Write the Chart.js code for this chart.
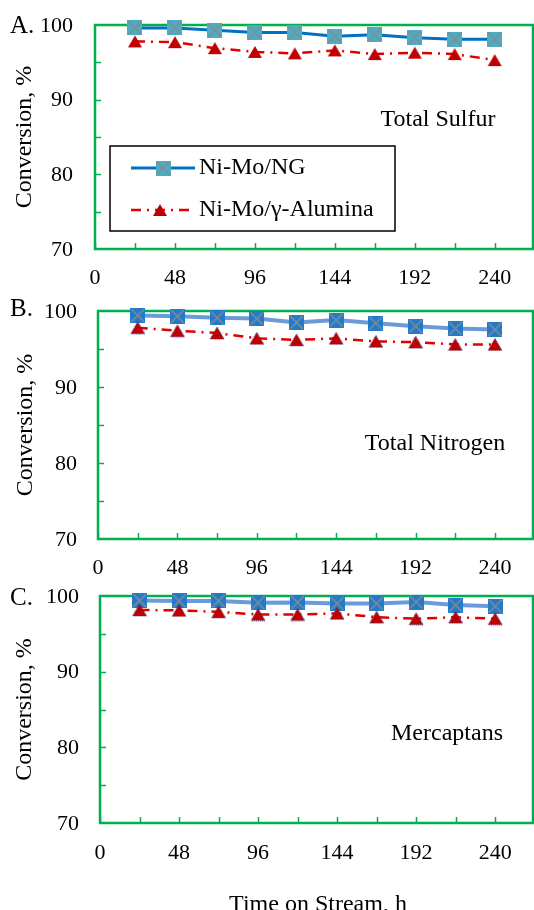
<!DOCTYPE html>
<html>
<head>
<meta charset="utf-8">
<script src="https://cdn.jsdelivr.net/npm/chart.js@4.4.1/dist/chart.umd.min.js"></script>
<style>
html, body { margin: 0; padding: 0; background: #fff; overflow: hidden; }
body { width: 534px; height: 910px; position: relative; font-family: "Liberation Serif", "Times New Roman", serif; }
canvas { position: absolute; left: 0; }
#xTitle { position: absolute; left: 318px; top: 903px; transform: translate(-50%, -50%); font-size: 24px; white-space: nowrap; color: #000; }
</style>
</head>
<body>
<canvas id="chartA" width="534" height="290" style="top:0"></canvas>
<canvas id="chartB" width="534" height="290" style="top:290px"></canvas>
<canvas id="chartC" width="534" height="330" style="top:580px"></canvas>
<div id="xTitle">Time on Stream, h</div>
<script>
// data
const hours = [24, 48, 72, 96, 120, 144, 168, 192, 216, 240]
const xTicks = [0, 24, 48, 72, 96, 120, 144, 168, 192, 216, 240]
const xLabels = [0, 48, 96, 144, 192, 240]
const yTicks = [70, 80, 90, 100]
const yTickMarks = [75, 80, 85, 90, 95]
const seriesNames = ['Ni-Mo/NG', 'Ni-Mo/γ-Alumina']

const sulfurNG = [99.6, 99.6, 99.3, 99.0, 99.0, 98.5, 98.7, 98.3, 98.1, 98.1]
const sulfurAlumina = [97.8, 97.7, 96.9, 96.4, 96.2, 96.6, 96.1, 96.3, 96.1, 95.3]
const nitrogenNG = [99.4, 99.3, 99.1, 99.0, 98.5, 98.8, 98.4, 98.0, 97.7, 97.55]
const nitrogenAlumina = [97.8, 97.4, 97.1, 96.4, 96.2, 96.4, 96.0, 95.9, 95.6, 95.6]
const mercaptanNG = [99.4, 99.35, 99.35, 99.1, 99.15, 99.0, 99.0, 99.2, 98.8, 98.65]
const mercaptanAlumina = [98.15, 98.1, 97.9, 97.55, 97.55, 97.7, 97.2, 97.0, 97.2, 97.0]

const FONT = '"Liberation Serif", "Times New Roman", serif'
const GREEN = '#00B050'
const RED = '#C00000'

function squareMark(fill, size) {
    const c = document.createElement('canvas')
    c.width = c.height = size
    const g = c.getContext('2d')
    g.fillStyle = fill
    g.fillRect(0, 0, size, size)
    g.strokeStyle = '#8a8a8a'
    g.lineWidth = 1.5
    g.beginPath()
    g.moveTo(1, 1); g.lineTo(size - 1, size - 1)
    g.moveTo(size - 1, 1); g.lineTo(1, size - 1)
    g.stroke()
    return c
}

function triangleMark(fill, w, h, edge) {
    const c = document.createElement('canvas')
    c.width = w + 2
    c.height = h + 2
    const g = c.getContext('2d')
    g.fillStyle = fill
    g.beginPath()
    g.moveTo(1 + w / 2, 1); g.lineTo(1 + w, 1 + h); g.lineTo(1, 1 + h)
    g.closePath()
    g.fill()
    if (edge) {
        g.strokeStyle = edge
        g.lineWidth = 1
        g.setLineDash([1, 1])
        g.stroke()
    }
    return c
}

const squareA = squareMark('#4BACC6', 15)
const squareB = squareMark('#1F7BCC', 15)
const triA = triangleMark(RED, 14, 12)
const triB = triangleMark(RED, 14, 12, '#3a3a80')

const panelDeco = {
    id: 'panelDeco',
    beforeDatasetsDraw(chart, args, o) {
        const {ctx, chartArea: a, scales: {x, y}} = chart
        ctx.save()
        ctx.strokeStyle = GREEN
        ctx.lineWidth = 1.5
        ctx.beginPath()
        xTicks.forEach(v => {
            const px = Math.round(x.getPixelForValue(v)) + 0.5
            ctx.moveTo(px, a.bottom)
            ctx.lineTo(px, a.bottom - 6)
        })
        yTickMarks.forEach(v => {
            const py = Math.round(y.getPixelForValue(v)) + 0.5
            ctx.moveTo(a.left, py)
            ctx.lineTo(a.left + 6, py)
        })
        ctx.stroke()
        ctx.lineWidth = 2.5
        ctx.strokeRect(a.left, a.top, a.right - a.left, a.bottom - a.top)

        // tick labels, placed by the scales
        ctx.fillStyle = '#000'
        ctx.font = '22px ' + FONT
        ctx.textBaseline = 'middle'
        ctx.textAlign = 'right'
        yTicks.forEach(v => ctx.fillText(v, a.left - o.yGap, y.getPixelForValue(v) + 1))
        ctx.textAlign = 'center'
        xLabels.forEach(v => ctx.fillText(v, x.getPixelForValue(v), a.bottom + o.xGap))
        ctx.restore()
    },
    afterDraw(chart, args, o) {
        const ctx = chart.ctx
        ctx.save()
        ctx.fillStyle = '#000'
        ctx.textBaseline = 'middle'
        ctx.textAlign = 'left'
        ctx.font = '25px ' + FONT
        ctx.fillText(o.letter, 10, o.letterY)
        ctx.font = '24px ' + FONT
        ctx.textAlign = 'center'
        ctx.fillText(o.name, o.nameX, o.nameY)

        if (o.legend) {
            const L = o.legend
            ctx.strokeStyle = '#000'
            ctx.lineWidth = 1.5
            ctx.strokeRect(L.x, L.y, L.w, L.h)
            // row 1
            ctx.strokeStyle = '#0070C0'
            ctx.lineWidth = 3
            ctx.beginPath()
            ctx.moveTo(L.x + 21, L.y + 22)
            ctx.lineTo(L.x + 85, L.y + 22)
            ctx.stroke()
            ctx.drawImage(squareA, L.x + 53 - 7.5, L.y + 22 - 7.5)
            // row 2
            ctx.strokeStyle = '#E00000'
            ctx.lineWidth = 2.5
            ctx.setLineDash([10, 6, 2, 6])
            ctx.beginPath()
            ctx.moveTo(L.x + 21, L.y + 64)
            ctx.lineTo(L.x + 85, L.y + 64)
            ctx.stroke()
            ctx.setLineDash([])
            ctx.drawImage(triA, L.x + 50 - triA.width / 2, L.y + 64 - triA.height / 2)
            ctx.fillStyle = '#000'
            ctx.textAlign = 'left'
            ctx.fillText(seriesNames[0], L.x + 89, L.y + 22)
            ctx.fillText(seriesNames[1], L.x + 89, L.y + 64)
        }
        ctx.restore()
    }
}

function makePanel(id, ngData, aluData, p) {
    const canvas = document.getElementById(id)
    return new Chart(canvas, {
        type: 'line',
        data: {
            labels: hours,
            datasets: [{
                label: seriesNames[0],
                data: hours.map((h, i) => ({x: h, y: ngData[i]})),
                borderColor: p.ngLine,
                borderWidth: p.ngWidth,
                pointStyle: p.square,
                pointRadius: 6,
                tension: 0,
                clip: false,
                order: 1
            }, {
                label: seriesNames[1],
                data: hours.map((h, i) => ({x: h, y: aluData[i]})),
                borderColor: '#E00000',
                borderWidth: 2.5,
                borderDash: [10, 6, 2, 6],
                pointStyle: p.tri,
                pointRadius: 6,
                tension: 0,
                clip: false,
                order: 0
            }]
        },
        options: {
            responsive: false,
            animation: false,
            events: [],
            layout: { autoPadding: false, padding: { top: p.top, right: 1, left: 0, bottom: 0 } },
            scales: {
                x: {
                    type: 'linear',
                    min: 0,
                    max: 263,
                    afterBuildTicks: s => { s.ticks = xTicks.map(v => ({value: v})) },
                    afterFit: s => { s.height = canvas.height - p.bottom },
                    grid: { display: false, drawTicks: false },
                    border: { display: false },
                    ticks: { display: false }
                },
                y: {
                    min: 70,
                    max: 100,
                    afterBuildTicks: s => { s.ticks = yTicks.map(v => ({value: v})) },
                    afterFit: s => { s.width = p.left },
                    grid: { display: false, drawTicks: false },
                    border: { display: false },
                    ticks: { display: false },
                    title: {
                        display: true,
                        text: 'Conversion, %',
                        color: '#000',
                        font: { family: FONT, size: 24 },
                        padding: { top: p.titlePad, bottom: 0 }
                    }
                }
            },
            plugins: {
                legend: { display: false },
                tooltip: { enabled: false },
                panelDeco: {
                    letter: p.letter,
                    letterY: p.letterY,
                    name: p.name,
                    nameX: p.nameX,
                    nameY: p.nameY,
                    yGap: p.yGap,
                    xGap: p.xGap,
                    legend: p.legend
                }
            }
        },
        plugins: [panelDeco]
    })
}

makePanel('chartA', sulfurNG, sulfurAlumina, {
    left: 95, top: 25, bottom: 249, xGap: 29, yGap: 22, titlePad: 10,
    ngLine: '#0070C0', ngWidth: 3, square: squareA, tri: triA,
    letter: 'A.', letterY: 26, name: 'Total Sulfur', nameX: 438, nameY: 120,
    legend: { x: 110, y: 146, w: 285, h: 85 }
})
makePanel('chartB', nitrogenNG, nitrogenAlumina, {
    left: 98, top: 21, bottom: 249, xGap: 29, yGap: 21, titlePad: 11,
    ngLine: '#6A9BD8', ngWidth: 4, square: squareB, tri: triB,
    letter: 'B.', letterY: 19, name: 'Total Nitrogen', nameX: 435, nameY: 154
})
makePanel('chartC', mercaptanNG, mercaptanAlumina, {
    left: 100, top: 16, bottom: 243, xGap: 30, yGap: 21, titlePad: 10,
    ngLine: '#6A9BD8', ngWidth: 4, square: squareB, tri: triB,
    letter: 'C.', letterY: 18, name: 'Mercaptans', nameX: 447, nameY: 154
})
</script>
</body>
</html>
